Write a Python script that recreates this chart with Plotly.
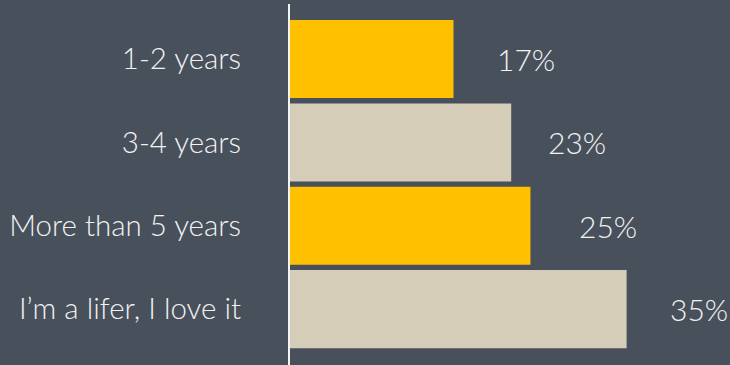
import plotly.graph_objects as go

# Survey answers, top to bottom
categories = ["1-2 years", "3-4 years", "More than 5 years", "I\u2019m a lifer, I love it"]
shares = [17, 23, 25, 35]
bar_colors = ["#FFC000", "#D5CDB7", "#FFC000", "#D5CDB7"]

# small horizontal nudges (px) for the value labels
label_nudge = [72, 66, 78, 72]

BG = "#47505B"
TEXT = "#F2F2F2"
FONT = "Lato"

fig = go.Figure(
    go.Bar(
        x=shares,
        y=categories,
        orientation="h",
        marker=dict(color=bar_colors, line=dict(width=0)),
        width=0.936,
        hoverinfo="skip",
    )
)

for cat, val, dx in zip(categories, shares, label_nudge):
    fig.add_annotation(
        x=val, y=cat, text=f"{val}%", showarrow=False,
        xanchor="center", yanchor="middle", xshift=dx,
        font=dict(family=FONT, size=30, color=TEXT, weight=300),
    )

fig.update_layout(
    width=730, height=365,
    margin=dict(l=290, r=0, t=4, b=0),
    paper_bgcolor=BG, plot_bgcolor=BG,
    showlegend=False,
    xaxis=dict(range=[0, 45.75], visible=False, fixedrange=True),
    yaxis=dict(
        type="category",
        range=[3.67, -0.66],
        showgrid=False, zeroline=False,
        showline=True, linecolor="#F4F4F4", linewidth=2,
        ticks="", ticklabelstandoff=41,
        tickfont=dict(family=FONT, size=29.5, color=TEXT, weight=300),
        fixedrange=True,
    ),
)

fig.write_html("out.html")
